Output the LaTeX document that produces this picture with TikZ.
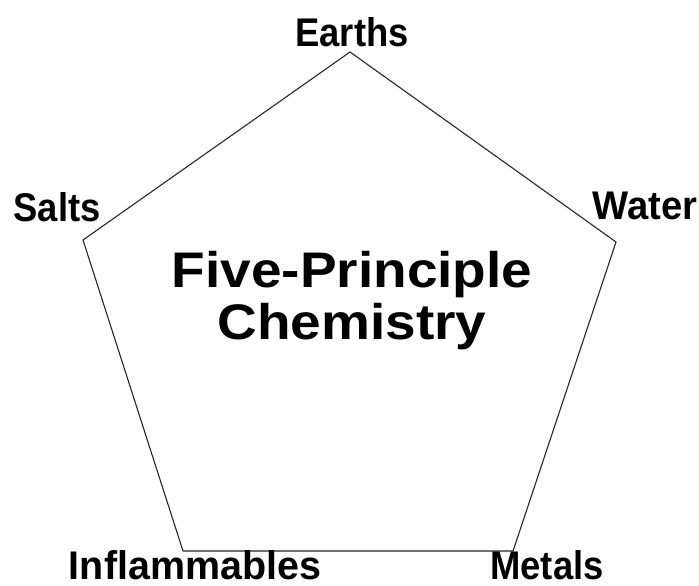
\documentclass[tikz,border=0pt]{standalone}
\usepackage{fontspec}
\setmainfont{Liberation Sans}
\begin{document}
\begin{tikzpicture}[x=1pt,y=-1pt,
  lbl/.style={font=\bfseries\fontsize{40}{44}\selectfont, inner sep=0pt, anchor=base, xscale=0.91},
  ttl/.style={font=\bfseries\fontsize{50}{56}\selectfont, inner sep=0pt, anchor=base, xscale=1.1},
  edge/.style={draw=black!85, line width=1.1pt, line join=miter}]
\useasboundingbox (0,0) rectangle (699,586);
\coordinate (vT) at (350,52);
\coordinate (vR) at (616,242);
\coordinate (vBR) at (513,551);
\coordinate (vBL) at (183,551);
\coordinate (vL) at (83,240);
\draw[edge] (vT) -- (vR) -- (vBR) -- (vBL) -- (vL) -- cycle;
\node[lbl] (earths) at (352,47) {Earths};
\node[lbl] (salts) at (57,221) {Salts};
\node[lbl, xscale=0.955/0.91] (water) at (645,219) {Water};
\node[lbl, xscale=0.986/0.91] (infl) at (195,579) {Inflammables};
\node[lbl] (metals) at (547,579) {Metals};
\node[ttl] (t1) at (352,287) {Five-Principle};
\node[ttl] (t2) at (352,339) {Chemistry};
\end{tikzpicture}
\end{document}
